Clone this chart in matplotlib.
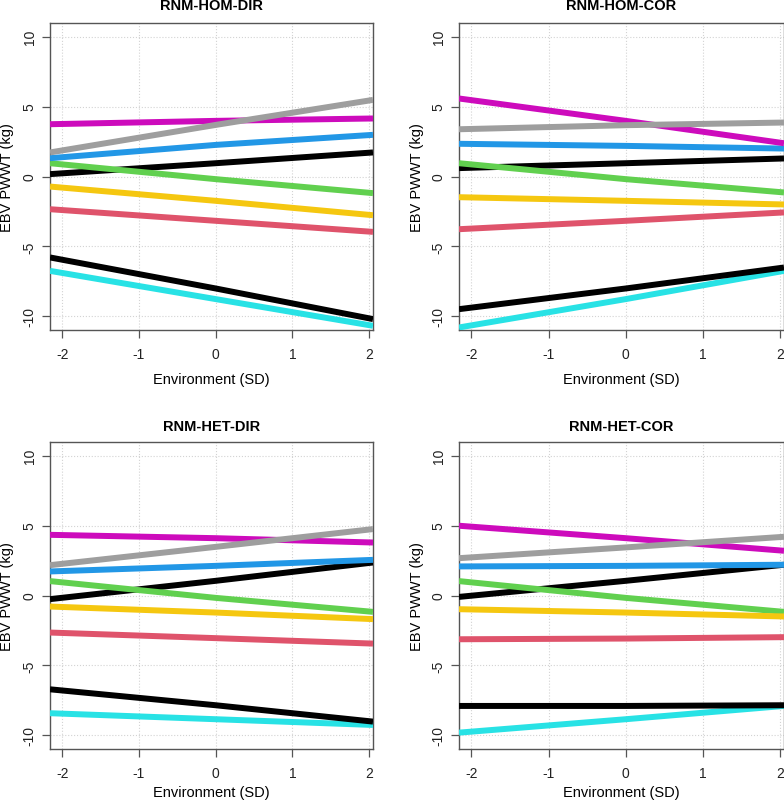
import numpy as np
import matplotlib
matplotlib.use("Agg")
import matplotlib.pyplot as plt

plt.rcParams['font.family'] = ['Liberation Sans', 'DejaVu Sans']

# x positions where the lines were read (left edge, centre, right edge)
env = [-2.16, 0.0, 2.05]

titles = ["RNM-HOM-DIR", "RNM-HOM-COR", "RNM-HET-DIR", "RNM-HET-COR"]

# R palette colours, plotting order (col 9 recycles to black)
cols = ["#000000", "#DF536B", "#61D04F", "#2297E6", "#28E2E5",
        "#CD0BBC", "#F5C710", "#9E9E9E", "#000000"]

# EBV (kg) per animal, at env = -2.16, 0, 2.05
hom_dir = [[0.17, 0.95, 1.72],
           [-2.34, -3.17, -3.96],
           [0.95, -0.19, -1.19],
           [1.31, 2.26, 2.98],
           [-6.75, -8.77, -10.68],
           [3.74, 3.98, 4.15],
           [-0.72, -1.74, -2.77],
           [1.72, 3.69, 5.48],
           [-5.79, -8.01, -10.2]]

hom_cor = [[0.6, 0.95, 1.29],
           [-3.77, -3.17, -2.57],
           [0.95, -0.19, -1.14],
           [2.34, 2.19, 2.0],
           [-10.8, -8.77, -6.75],
           [5.58, 3.98, 2.38],
           [-1.48, -1.74, -2.0],
           [3.38, 3.67, 3.86],
           [-9.49, -8.01, -6.51]]

het_dir = [[-0.26, 1.05, 2.36],
           [-2.65, -3.05, -3.44],
           [1.03, -0.17, -1.17],
           [1.72, 2.12, 2.55],
           [-8.42, -8.85, -9.26],
           [4.34, 4.1, 3.79],
           [-0.79, -1.22, -1.69],
           [2.17, 3.48, 4.75],
           [-6.71, -7.85, -9.02]]

het_cor = [[-0.1, 1.05, 2.2],
           [-3.13, -3.08, -2.98],
           [1.03, -0.17, -1.17],
           [2.08, 2.12, 2.2],
           [-9.81, -8.85, -7.9],
           [4.99, 4.1, 3.2],
           [-0.98, -1.22, -1.5],
           [2.67, 3.44, 4.2],
           [-7.9, -7.9, -7.85]]

panels = [hom_dir, hom_cor, het_dir, het_cor]

W, H = 784, 803
fig = plt.figure(figsize=(W / 100, H / 100), dpi=100)

# axes boxes in pixels: left, right, top, bottom
boxes = [(50, 373, 24, 331), (459, 784, 24, 331),
         (50, 373, 443, 750), (459, 784, 443, 750)]
# offsets (px): title above, xlabel below (to top of text), ylabel left (to right edge)
offs = [(18, 42, 36), (18, 42, 35), (16, 36, 36), (16, 36, 35)]

for i in range(4):
    l, r, t, b = boxes[i]
    ax = fig.add_axes([l / W, 1 - b / H, (r - l) / W, (b - t) / H])
    wpx, hpx = r - l, b - t
    for k in range(len(panels[i])):
        ax.plot(env, panels[i][k], color=cols[k], lw=4.3,
                solid_capstyle='butt', zorder=3)
    ax.set_xlim(-2.16, 2.05)
    ax.set_ylim(-10.98, 10.98)
    ax.set_xticks([-2, -1, 0, 1, 2])
    ax.set_yticks([-10, -5, 0, 5, 10])
    ax.set_xticklabels(["-2", "-1", "0", "1", "2"])
    ax.set_yticklabels(["-10", "-5", "0", "5", "10"], rotation=90, va='center')
    ax.grid(True, color='#d3d3d3', ls=':', lw=0.8, zorder=0)
    for s in ax.spines.values():
        s.set_color('#555555')
        s.set_linewidth(1.0)
    ax.tick_params(length=6, width=0.9, color='#555555', labelsize=10,
                   labelcolor='#222222')
    ax.tick_params(axis='x', pad=6)
    ax.tick_params(axis='y', pad=3.5)
    ax.set_xlabel("Environment (SD)", fontsize=10.5)
    ax.set_ylabel("EBV PWWT (kg)", fontsize=10.5)
    tpad, xoff, yoff = offs[i]
    ax.xaxis.set_label_coords(0.5, -xoff / hpx)
    ax.yaxis.set_label_coords(-yoff / wpx, 0.5)
    ax.text(0.5, 1 + tpad / hpx, titles[i], transform=ax.transAxes,
            ha='center', va='center', fontsize=10.5, fontweight='bold')

fig.savefig("out.png", dpi=100)
